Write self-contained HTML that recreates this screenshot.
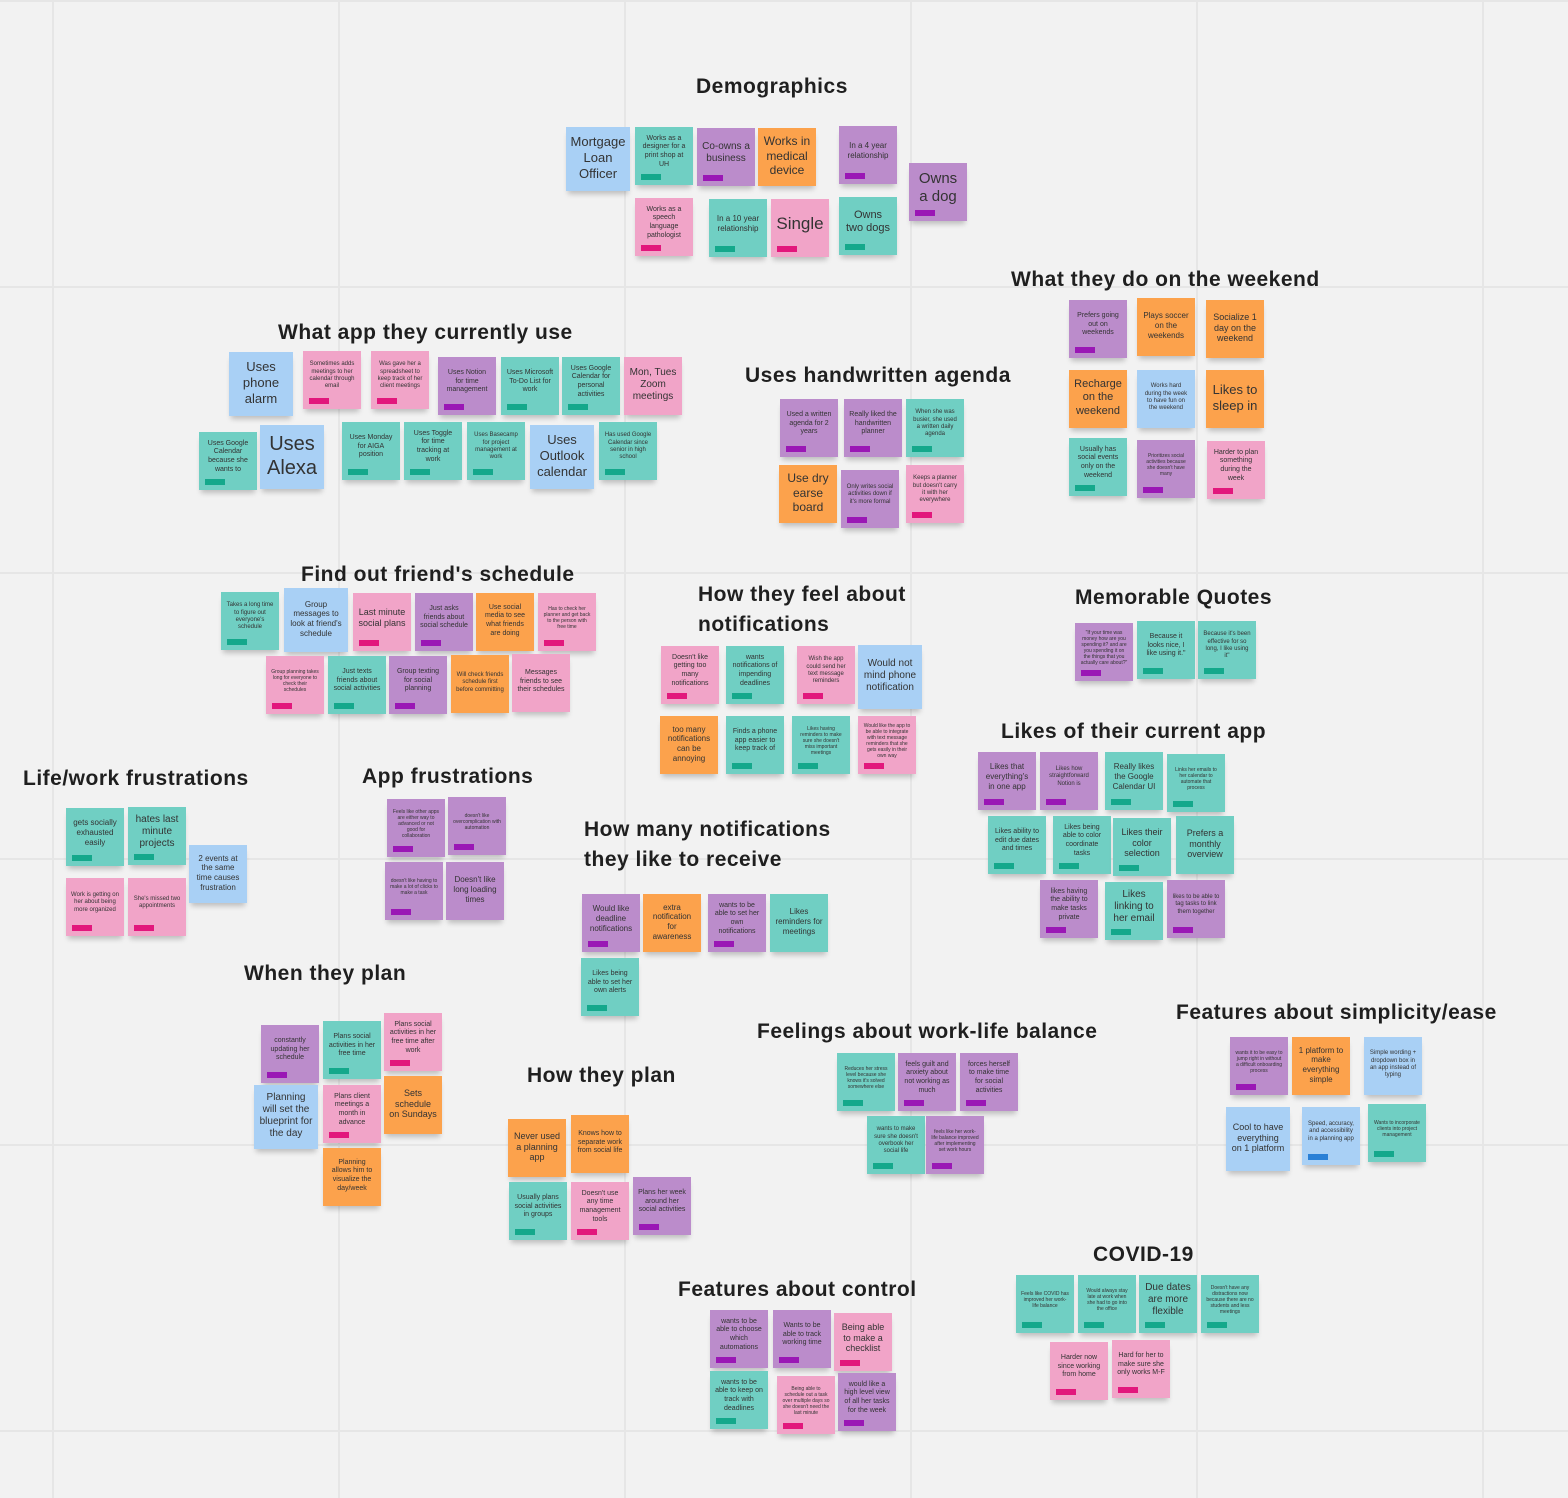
<!DOCTYPE html>
<html><head><meta charset="utf-8">
<style>
html,body{margin:0;padding:0}
body{width:1568px;height:1498px;position:relative;overflow:hidden;background:#f2f2f2;font-family:"Liberation Sans",sans-serif}
.vl{position:absolute;top:0;width:2px;height:1498px;background:#e6e6e6}
.hl{position:absolute;left:0;height:2px;width:1568px;background:#e6e6e6}
.t{position:absolute;font-weight:bold;font-size:21px;color:#1f1f1f;white-space:nowrap;letter-spacing:0.5px;line-height:30px}
.n{position:absolute;box-shadow:0 5px 5px -2px rgba(0,0,0,0.22);display:flex;align-items:center;justify-content:center;text-align:center;color:#333;line-height:1.22;box-sizing:border-box;padding:2px 5px 10px 5px}
.g{position:absolute;width:20px;height:6px;left:6px;bottom:5px}
</style></head><body>
<div id="board"></div>
<script>
const vlines=[53,339,625,911,1197,1483];
const hlines=[1,287,573,859,1145,1431];
const titles=[
["Demographics",696,72],["What they do on the weekend",1011,265],["What app they currently use",278,318],
["Uses handwritten agenda",745,361],["Find out friend's schedule",301,560],["How they feel about<br>notifications",698,580],
["Memorable Quotes",1075,583],["Likes of their current app",1001,717],["Life/work frustrations",23,764],
["App frustrations",362,762],["How many notifications<br>they like to receive",584,815],["When they plan",244,959],
["Feelings about work-life balance",757,1017],["Features about simplicity/ease",1176,998],["How they plan",527,1061],
["COVID-19",1093,1240],["Features about control",678,1275]];
const colors={b:"#a9d0f5",t:"#70cfc3",p:"#bb8ccb",o:"#fca24c",k:"#f1a4c8"};
const tags={t:"#14a88b",p:"#9a17b5",k:"#e2177c",b:"#2a80d6",n:""};
const notes=[
[566,127,64,"b","n",13,"Mortgage Loan Officer"],[635,127,58,"t","t",7,"Works as a designer for a print shop at UH"],[697,128,58,"p","p",10,"Co-owns a business"],[758,128,58,"o","n",12,"Works in medical device"],[839,126,58,"p","p",8,"In a 4 year relationship"],[909,163,58,"p","p",15,"Owns a dog"],[635,198,58,"k","k",7,"Works as a speech language pathologist"],[709,199,58,"t","t",8,"In a 10 year relationship"],[771,199,58,"k","k",17,"Single"],[839,197,58,"t","t",11,"Owns two dogs"],
[229,352,64,"b","n",13,"Uses phone alarm"],[303,351,58,"k","k",6,"Sometimes adds meetings to her calendar through email"],[371,351,58,"k","k",6,"Was gave her a spreadsheet to keep track of her client meetings"],[438,357,58,"p","p",7,"Uses Notion for time management"],[501,357,58,"t","t",7,"Uses Microsoft To-Do List for work"],[562,357,58,"t","t",7,"Uses Google Calendar for personal activities"],[624,357,58,"k","n",10,"Mon, Tues Zoom meetings"],[199,432,58,"t","t",7,"Uses Google Calendar because she wants to"],[260,425,64,"b","n",20,"Uses Alexa"],[342,422,58,"t","t",7,"Uses Monday for AIGA position"],[404,422,58,"t","t",7,"Uses Toggle for time tracking at work"],[467,422,58,"t","t",6,"Uses Basecamp for project management at work"],[530,425,64,"b","n",13,"Uses Outlook calendar"],[599,422,58,"t","t",6,"Has used Google Calendar since senior in high school"],
[780,399,58,"p","p",7,"Used a written agenda for 2 years"],[844,399,58,"p","p",7,"Really liked the handwritten planner"],[906,399,58,"t","t",6,"When she was busier, she used a written daily agenda"],[779,465,58,"o","n",12,"Use dry earse board"],[841,470,58,"p","p",6,"Only writes social activities down if it's more formal"],[906,465,58,"k","k",6,"Keeps a planner but doesn't carry it with her everywhere"],
[1069,300,58,"p","p",7,"Prefers going out on weekends"],[1137,298,58,"o","n",8,"Plays soccer on the weekends"],[1206,300,58,"o","n",9,"Socialize 1 day on the weekend"],[1069,370,58,"o","n",11,"Recharge on the weekend"],[1137,370,58,"b","n",6,"Works hard during the week to have fun on the weekend"],[1206,370,58,"o","n",13,"Likes to sleep in"],[1069,438,58,"t","t",7,"Usually has social events only on the weekend"],[1137,440,58,"p","p",5,"Prioritizes social activities because she doesn't have many"],[1207,441,58,"k","k",7,"Harder to plan something during the week"],
[221,592,58,"t","t",6,"Takes a long time to figure out everyone's schedule"],[284,588,64,"b","n",8,"Group messages to look at friend's schedule"],[353,593,58,"k","k",9,"Last minute social plans"],[415,593,58,"p","p",7,"Just asks friends about social schedule"],[476,593,58,"o","n",7,"Use social media to see what friends are doing"],[538,593,58,"k","k",5,"Has to check her planner and get back to the person with free time"],[266,656,58,"k","k",5,"Group planning takes long for everyone to check their schedules"],[328,656,58,"t","t",7,"Just texts friends about social activities"],[389,656,58,"p","p",7,"Group texting for social planning"],[451,655,58,"o","n",6,"Will check friends schedule first before committing"],[512,654,58,"k","n",7,"Messages friends to see their schedules"],
[661,646,58,"k","k",7,"Doesn't like getting too many notifications"],[726,646,58,"t","t",7,"wants notifications of impending deadlines"],[797,646,58,"k","k",6,"Wish the app could send her text message reminders"],[858,645,64,"b","n",10,"Would not mind phone notification"],[660,716,58,"o","n",8,"too many notifications can be annoying"],[726,716,58,"t","t",7,"Finds a phone app easier to keep track of"],[792,716,58,"t","t",5,"Likes having reminders to make sure she doesn't miss important meetings"],[858,716,58,"k","k",5,"Would like the app to be able to integrate with text message reminders that she gets easily in their own way"],
[1075,623,58,"p","p",5,"\"If your time was money how are you spending it? and are you spending it on the things that you actually care about?\""],[1137,621,58,"t","t",7,"Because it looks nice, I like using it.\""],[1198,621,58,"t","t",6,"Because it's been effective for so long, I like using it\""],
[978,752,58,"p","p",8,"Likes that everything's in one app"],[1040,752,58,"p","p",6,"Likes how straightforward Notion is"],[1105,752,58,"t","t",8,"Really likes the Google Calendar UI"],[1167,754,58,"t","t",5,"Links her emails to her calendar to automate that process"],[988,816,58,"t","t",7,"Likes ability to edit due dates and times"],[1053,816,58,"t","t",7,"Likes being able to color coordinate tasks"],[1113,818,58,"t","t",9,"Likes their color selection"],[1176,816,58,"t","n",9,"Prefers a monthly overview"],[1040,880,58,"p","p",7,"likes having the ability to make tasks private"],[1105,882,58,"t","t",10,"Likes linking to her email"],[1167,880,58,"p","p",6,"likes to be able to tag tasks to link them together"],
[66,808,58,"t","t",8,"gets socially exhausted easily"],[128,807,58,"t","t",10,"hates last minute projects"],[189,845,58,"b","n",8,"2 events at the same time causes frustration"],[66,878,58,"k","k",6,"Work is getting on her about being more organized"],[128,878,58,"k","k",6,"She's missed two appointments"],
[387,799,58,"p","p",5,"Feels like other apps are either way to advanced or not good for collaboration"],[448,797,58,"p","p",5,"doesn't like overcomplication with automation"],[385,862,58,"p","p",5,"doesn't like having to make a lot of clicks to make a task"],[446,862,58,"p","n",8,"Doesn't like long loading times"],
[582,894,58,"p","p",8,"Would like deadline notifications"],[643,894,58,"o","n",8,"extra notification for awareness"],[708,894,58,"p","p",7,"wants to be able to set her own notifications"],[770,894,58,"t","n",8,"Likes reminders for meetings"],[581,958,58,"t","t",7,"Likes being able to set her own alerts"],
[261,1025,58,"p","p",7,"constantly updating her schedule"],[323,1021,58,"t","t",7,"Plans social activities in her free time"],[384,1013,58,"k","k",7,"Plans social activities in her free time after work"],[254,1085,64,"b","n",10,"Planning will set the blueprint for the day"],[323,1085,58,"k","k",7,"Plans client meetings a month in advance"],[384,1076,58,"o","n",9,"Sets schedule on Sundays"],[323,1148,58,"o","n",7,"Planning allows him to visualize the day/week"],
[508,1119,58,"o","n",9,"Never used a planning app"],[571,1115,58,"o","n",7,"Knows how to separate work from social life"],[509,1182,58,"t","t",7,"Usually plans social activities in groups"],[571,1182,58,"k","k",7,"Doesn't use any time management tools"],[633,1177,58,"p","p",7,"Plans her week around her social activities"],
[837,1053,58,"t","t",5,"Reduces her stress level because she knows it's solved somewhere else"],[898,1053,58,"p","p",7,"feels guilt and anxiety about not working as much"],[960,1053,58,"p","p",7,"forces herself to make time for social activities"],[867,1116,58,"t","t",6,"wants to make sure she doesn't overbook her social life"],[926,1116,58,"p","p",5,"feels like her work-life balance improved after implementing set work hours"],
[1230,1037,58,"p","p",5,"wants it to be easy to jump right in without a difficult onboarding process"],[1292,1037,58,"o","n",8,"1 platform to make everything simple"],[1364,1037,58,"b","n",6,"Simple wording + dropdown box in an app instead of typing"],[1226,1107,64,"b","n",9,"Cool to have everything on 1 platform"],[1302,1107,58,"b","b",6,"Speed, accuracy, and accessibility in a planning app"],[1368,1104,58,"t","t",5,"Wants to incorporate clients into project management"],
[710,1310,58,"p","p",7,"wants to be able to choose which automations"],[773,1310,58,"p","p",7,"Wants to be able to track working time"],[834,1313,58,"k","k",9,"Being able to make a checklist"],[710,1371,58,"t","t",7,"wants to be able to keep on track with deadlines"],[777,1376,58,"k","k",5,"Being able to schedule out a task over multiple days so she doesn't need the last minute"],[838,1373,58,"p","p",7,"would like a high level view of all her tasks for the week"],
[1016,1275,58,"t","t",5,"Feels like COVID has improved her work-life balance"],[1078,1275,58,"t","t",5,"Would always stay late at work when she had to go into the office"],[1139,1275,58,"t","t",10,"Due dates are more flexible"],[1201,1275,58,"t","t",5,"Doesn't have any distractions now because there are no students and less meetings"],[1050,1342,58,"k","k",7,"Harder now since working from home"],[1112,1340,58,"k","k",7,"Hard for her to make sure she only works M-F"]
];
const board=document.getElementById('board');
vlines.forEach(x=>{const d=document.createElement('div');d.className='vl';d.style.left=(x-1)+'px';


board.appendChild(d);});
hlines.forEach(y=>{const d=document.createElement('div');d.className='hl';d.style.top=(y-1)+'px';


board.appendChild(d);});
titles.forEach(t=>{const d=document.createElement('div');d.className='t';d.innerHTML=t[0];d.style.left=t[1]+'px';d.style.top=t[2]+'px';


board.appendChild(d);});
notes.forEach(n=>{const d=document.createElement('div');d.className='n';
d.style.left=n[0]+'px';d.style.top=n[1]+'px';d.style.width=n[2]+'px';d.style.height=n[2]+'px';
d.style.background=colors[n[3]];d.style.fontSize=n[5]+'px';
if(n[4]==='n')d.style.paddingBottom='4px';
d.textContent=n[6];


if(tags[n[4]]){const g=document.createElement('div');g.className='g';g.style.background=tags[n[4]];


d.appendChild(g);}
board.appendChild(d);});
</script>
</body></html>
